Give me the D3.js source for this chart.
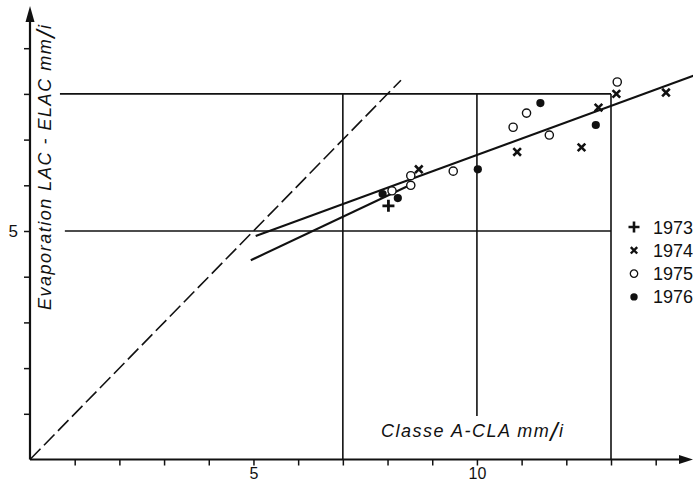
<!DOCTYPE html>
<html>
<head>
<meta charset="utf-8">
<script src="https://cdn.jsdelivr.net/npm/d3@7"></script>
<style>
  body { margin: 0; background: #fff; }
  svg { display: block; }
  text { font-family: "Liberation Sans", Arial, Helvetica, sans-serif; fill: #111; }
</style>
</head>
<body>
<script>
// points, [classe A, lac]
const pts1973 = [[8.02, 5.55]];
const pts1974 = [[8.70, 6.35], [10.90, 6.73], [12.34, 6.83], [12.72, 7.70], [13.12, 8.00], [14.23, 8.03]];
const pts1975 = [[13.14, 8.26], [11.11, 7.58], [10.81, 7.27], [11.62, 7.10], [9.47, 6.31], [8.52, 6.21], [8.52, 6.00], [8.10, 5.88]];
const pts1976 = [[11.42, 7.80], [12.66, 7.32], [10.02, 6.35], [7.89, 5.81], [8.23, 5.72]];

const years = ['1973', '1974', '1975', '1976'];
const xTicks = d3.range(1, 15);
const yTicks = d3.range(1, 10);
const xLabelled = [5, 10];
const yLabelled = [5];

// reference frame drawn on the figure
const hRefs = [{ y: 8, x0: 0.67, x1: 13 }, { y: 5, x0: 0.78, x1: 13 }];
const vRefs = [{ x: 7, y0: 0, y1: 8 }, { x: 10, y0: 0.95, y1: 8 }, { x: 13, y0: 0, y1: 8 }];

// fitted lines and 1:1 line
const fitMain = [[5.05, 4.89], [14.9, 8.42]];
const fitLow = [[4.94, 4.36], [8.6, 6.05]];
const bisector = [[0, 0], [8.3, 8.3]];

const width = 693, height = 484;

const x = d3.scaleLinear().domain([0, 13]).range([30, 611]);
const y = d3.scaleLinear().domain([0, 5]).range([459.5, 231]);

const svg = d3.select('body').append('svg')
  .attr('width', width)
  .attr('height', height);

const line = d3.line().x(d => x(d[0])).y(d => y(d[1]));

// frame
svg.selectAll('line.href').data(hRefs).enter().append('line')
  .attr('class', 'href')
  .attr('x1', d => x(d.x0)).attr('x2', d => x(d.x1))
  .attr('y1', d => y(d.y)).attr('y2', d => y(d.y))
  .attr('stroke', '#111').attr('stroke-width', 1.6);

svg.selectAll('line.vref').data(vRefs).enter().append('line')
  .attr('class', 'vref')
  .attr('x1', d => x(d.x)).attr('x2', d => x(d.x))
  .attr('y1', d => y(d.y0)).attr('y2', d => y(d.y1))
  .attr('stroke', '#111').attr('stroke-width', 1.6);

// axes
const xAxis = svg.append('g')
  .attr('transform', `translate(0, ${y(0)})`)
  .call(d3.axisBottom(x).tickValues(xTicks).tickSize(6).tickPadding(2)
    .tickFormat(d => xLabelled.includes(d) ? d : ''));
xAxis.select('.domain').remove();
xAxis.selectAll('line').attr('stroke', '#111').attr('stroke-width', 1.5);
xAxis.selectAll('text').attr('font-size', 16).attr('fill', '#111')
  .attr('font-family', '"Liberation Sans", Arial, sans-serif');

const yAxis = svg.append('g')
  .attr('transform', `translate(${x(0)}, 0)`)
  .call(d3.axisLeft(y).tickValues(yTicks).tickSize(6).tickPadding(6)
    .tickFormat(d => yLabelled.includes(d) ? d : ''));
yAxis.select('.domain').remove();
yAxis.selectAll('line').attr('stroke', '#111').attr('stroke-width', 1.5);
yAxis.selectAll('text').attr('font-size', 17).attr('fill', '#111')
  .attr('font-family', '"Liberation Sans", Arial, sans-serif');

// axis lines with arrows
const x0 = x(0), y0 = y(0);
svg.append('line')
  .attr('x1', x0).attr('x2', 686).attr('y1', y0).attr('y2', y0)
  .attr('stroke', '#111').attr('stroke-width', 2.2);
svg.append('path')
  .attr('d', `M693,${y0} L679,${y0 - 4.5} L679,${y0 + 4.5} Z`)
  .attr('fill', '#111');
svg.append('line')
  .attr('x1', x0).attr('x2', x0).attr('y1', y0).attr('y2', 14)
  .attr('stroke', '#111').attr('stroke-width', 2.2);
svg.append('path')
  .attr('d', `M${x0},6 L${x0 - 4.5},22 L${x0 + 4.5},22 Z`)
  .attr('fill', '#111');

// lines
svg.append('path').datum(bisector)
  .attr('d', line)
  .attr('fill', 'none').attr('stroke', '#111').attr('stroke-width', 1.6)
  .attr('stroke-dasharray', '15,5');

svg.append('path').datum(fitMain)
  .attr('d', line)
  .attr('fill', 'none').attr('stroke', '#111').attr('stroke-width', 2.1);

svg.append('path').datum(fitLow)
  .attr('d', line)
  .attr('fill', 'none').attr('stroke', '#111').attr('stroke-width', 2.1);

// markers
const plus = svg.append('g');
plus.selectAll('path').data(pts1973).enter().append('path')
  .attr('d', d => `M${x(d[0]) - 6},${y(d[1])} h12 M${x(d[0])},${y(d[1]) - 6} v12`)
  .attr('stroke', '#111').attr('stroke-width', 2.8);

const cross = svg.append('g');
cross.selectAll('path').data(pts1974).enter().append('path')
  .attr('d', d => `M${x(d[0]) - 3.8},${y(d[1]) - 3.8} l7.6,7.6 M${x(d[0]) + 3.8},${y(d[1]) - 3.8} l-7.6,7.6`)
  .attr('stroke', '#111').attr('stroke-width', 2.6);

svg.append('g').selectAll('circle').data(pts1975).enter().append('circle')
  .attr('cx', d => x(d[0])).attr('cy', d => y(d[1])).attr('r', 4.1)
  .attr('fill', '#fff').attr('stroke', '#111').attr('stroke-width', 1.4);

svg.append('g').selectAll('circle').data(pts1976).enter().append('circle')
  .attr('cx', d => x(d[0])).attr('cy', d => y(d[1])).attr('r', 4.1)
  .attr('fill', '#111');

// legend
const legend = svg.append('g').attr('transform', 'translate(634, 227)');
const rows = legend.selectAll('g').data(years).enter().append('g')
  .attr('transform', (d, i) => `translate(0, ${i * 23.3})`);
rows.append('text')
  .attr('x', 19).attr('y', 6.5)
  .attr('font-size', 18)
  .text(d => d);
rows.filter((d, i) => i === 0).append('path')
  .attr('d', 'M-5.5,0 h11 M0,-5.5 v11').attr('stroke', '#111').attr('stroke-width', 2.6);
rows.filter((d, i) => i === 1).append('path')
  .attr('d', 'M-3.2,-3.2 l6.4,6.4 M3.2,-3.2 l-6.4,6.4').attr('stroke', '#111').attr('stroke-width', 2.4);
rows.filter((d, i) => i === 2).append('circle')
  .attr('r', 3.7).attr('fill', '#fff').attr('stroke', '#111').attr('stroke-width', 1.3);
rows.filter((d, i) => i === 3).append('circle')
  .attr('r', 3.7).attr('fill', '#111');

// axis titles
const xt = svg.append('text')
  .attr('x', 381).attr('y', 437)
  .attr('font-size', 18).attr('font-style', 'italic')
  .attr('textLength', 182).attr('lengthAdjust', 'spacing');
xt.append('tspan').text('Classe A-CLA mm');
xt.append('tspan').attr('font-size', 26).attr('dy', 4).text('/');
xt.append('tspan').attr('dy', -4).text('i');

const yt = svg.append('text')
  .attr('transform', 'translate(51, 310) rotate(-90)')
  .attr('x', 0).attr('y', 0)
  .attr('font-size', 18).attr('font-style', 'italic')
  .attr('textLength', 285).attr('lengthAdjust', 'spacing');
yt.append('tspan').text('Evaporation  LAC - ELAC  mm');
yt.append('tspan').attr('font-size', 26).attr('dy', 4).text('/');
yt.append('tspan').attr('dy', -4).text('i');
</script>
</body>
</html>
